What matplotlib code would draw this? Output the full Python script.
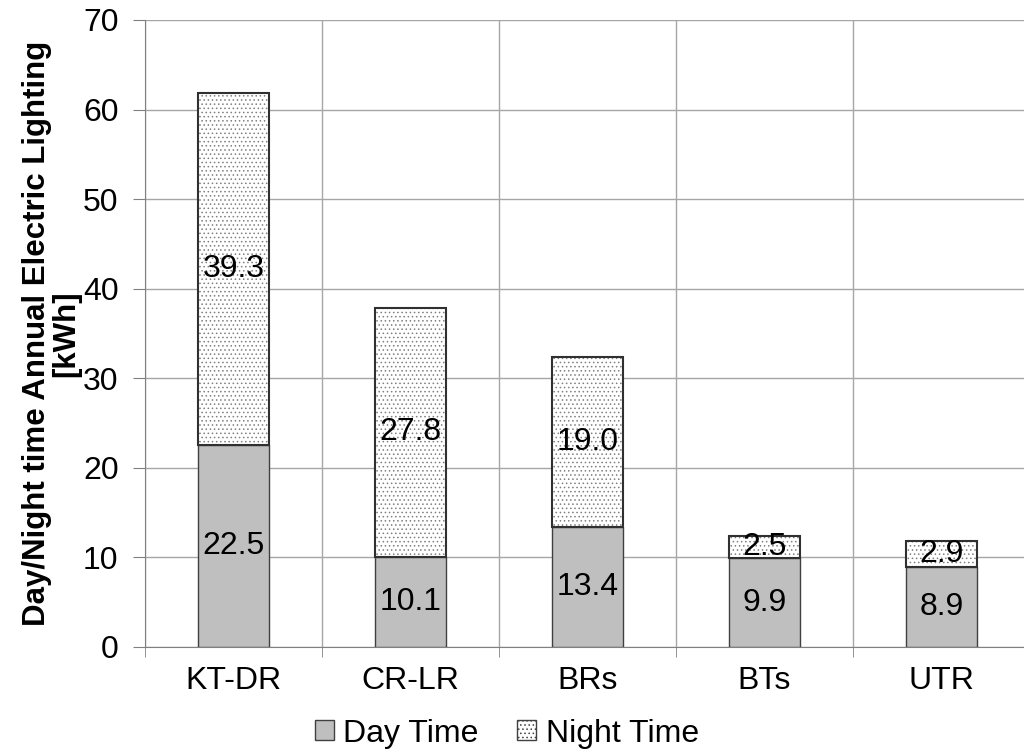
import matplotlib

matplotlib.use("Agg")
import matplotlib.pyplot as plt
import numpy as np
from matplotlib.patches import Patch

plt.rcParams["font.family"] = ["Liberation Sans", "DejaVu Sans"]
plt.rcParams["hatch.linewidth"] = 0.6

categories = ["KT-DR", "CR-LR", "BRs", "BTs", "UTR"]
day_time = [22.5, 10.1, 13.4, 9.9, 8.9]
night_time = [39.3, 27.8, 19.0, 2.5, 2.9]

fig = plt.figure(figsize=(10.24, 7.51), dpi=100)
ax = fig.add_axes([0.1416, 0.1385, 0.8643, 0.8349])

x = np.arange(len(categories))
w = 0.4
ax.bar(x, day_time, w, color="#bfbfbf", edgecolor="#404040", linewidth=1, zorder=3)
ax.bar(x, night_time, w, bottom=day_time, color="white", edgecolor="#808080",
       hatch="....", linewidth=0, zorder=3)
ax.bar(x, night_time, w, bottom=day_time, color="none", edgecolor="#303030",
       linewidth=1.5, zorder=4)

for i in range(len(categories)):
    ax.text(x[i], day_time[i] / 2, f"{day_time[i]:.1f}", ha="center", va="center",
            fontsize=23, zorder=5)
    ax.text(x[i], day_time[i] + night_time[i] / 2, f"{night_time[i]:.1f}",
            ha="center", va="center", fontsize=23, zorder=5)

ax.set_xlim(-0.5, len(categories) - 0.5)
ax.set_ylim(0, 70)
ax.set_yticks(range(0, 71, 10))
ax.set_xticks(x)
ax.set_xticklabels(categories)
ax.set_xticks(np.arange(-0.5, len(categories)), minor=True)
ax.tick_params(axis="x", which="major", length=0, labelsize=23, pad=14)
ax.tick_params(axis="x", which="minor", length=7, color="#808080")
ax.tick_params(axis="y", length=9, color="#808080", labelsize=23, pad=10)
ax.grid(True, which="major", axis="y", color="#a6a6a6", linewidth=1, zorder=0)
ax.grid(True, which="minor", axis="x", color="#a6a6a6", linewidth=1, zorder=0)
for s in ["top", "right"]:
    ax.spines[s].set_visible(False)
for s in ["left", "bottom"]:
    ax.spines[s].set_color("#808080")

ax.set_ylabel("Day/Night time Annual Electric Lighting\n[kWh]", fontsize=22.5,
              fontweight="bold", labelpad=1, linespacing=1.0)

handles = [Patch(facecolor="#bfbfbf", edgecolor="#404040", label="Day Time"),
           Patch(facecolor="white", edgecolor="#404040", hatch="....", label="Night Time")]
fig.legend(handles=handles, loc="lower center", bbox_to_anchor=(0.495, -0.035), ncol=2,
           frameon=False, fontsize=23, handlelength=0.6, handleheight=0.6,
           handletextpad=0.3, columnspacing=1.2)

fig.savefig("out.png", dpi=100)
